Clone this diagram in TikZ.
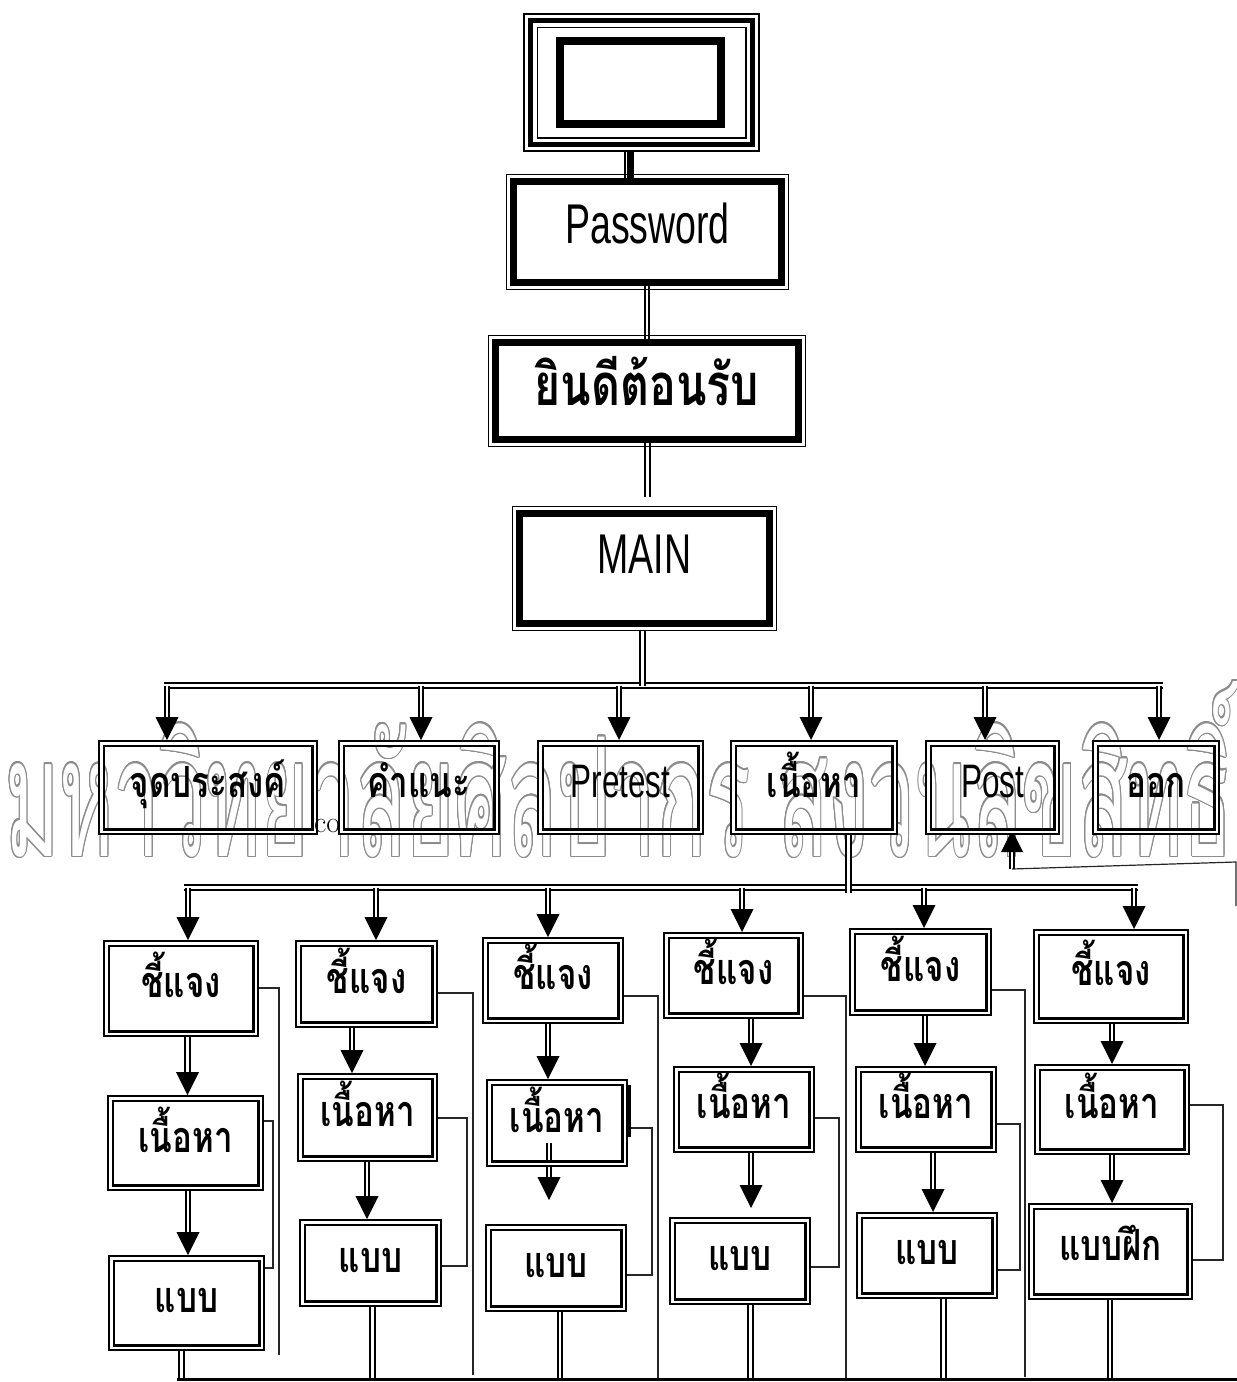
\documentclass[tikz,border=0pt]{standalone}
\usepackage{fontspec}
\usepackage{graphicx}
\usepackage[copies]{contour}
\usetikzlibrary{calc}
\newfontfamily\thai[Script=Thai]{Loma}
\newfontfamily\thain[Script=Thai,FakeStretch=0.77]{Loma}
\newfontfamily\latn[FakeStretch=0.67]{Liberation Sans}
\newcommand\thaitxt{\thain\bfseries\fontsize{43}{48}\selectfont}
\newcommand\latbig{\latn\fontsize{56}{60}\selectfont}
\newcommand\latmid{\latn\fontsize{47}{50}\selectfont}
\contourlength{1.2pt}
\contournumber{16}
\pgfdeclarelayer{back}
\pgfsetlayers{back,main}
\tikzset{
  dbl/.style={line width=2.3pt, double=white, double distance=2.3pt},
  thinln/.style={line width=1.2pt, black!85},
  frameln/.style={line width=1.6pt},
  lv/.style={draw, line width=2.3pt, double=white, double distance=2.2pt,
    inner sep=0pt, outer sep=3.4pt, text height=18pt, text depth=0pt, font=\thaitxt},
  lvtwo/.style={lv, text height=20pt},
  bigbox/.style={draw, line width=7pt, inner sep=0pt, outer sep=0pt},
}
% double-framed box given by its outer edges
\newcommand\bx[7][]{\node[lv,#1,minimum width={#5-#3-6.8},minimum height={#6-#4-6.8}]
  (#2) at ({(#3+#5)/2},{(#4+#6)/2}) {#7};}
% heavy box with a thin outer frame, given by the outer edges of the heavy band
\newcommand\bigbx[7][]{\node[bigbox,#1,minimum width={#5-#3-7},minimum height={#6-#4-7}]
  (#2) at ({(#3+#5)/2},{(#4+#6)/2}) {#7};
  \draw[frameln] ([shift={(-7,-7)}]#2.north west) rectangle ([shift={(7,7)}]#2.south east);}
% double-lined connector ending in a solid arrowhead, at a given x
\newcommand\colarr[3]{\coordinate (ax) at (#3,0);
  \draw[dbl] (#1 -| ax) -- ($(#2 -| ax)+(0,-20)$);
  \fill ($(#2 -| ax)+(-11.5,-23)$) -- (#2 -| ax) -- ($(#2 -| ax)+(11.5,-23)$) -- cycle;}
% double-lined drop from a box to the bottom rail
\newcommand\botln[2]{\coordinate (ax) at (#2,1378);
  \draw[dbl] (#1.south -| ax) -- (ax);}

\begin{document}
\begin{tikzpicture}[x=1pt,y=-1pt]
\useasboundingbox (0,0) rectangle (1237,1382);

% ---------- start screen ----------
\node[draw, line width=1.6pt, inner sep=0pt, outer sep=0pt,
  minimum width=235.4, minimum height=137.4] (top) at (641.5,82.5) {};
\draw[line width=5pt] ([shift={(7,7)}]top.north west) rectangle ([shift={(-7,-7)}]top.south east);
\draw[frameln] ([shift={(13.5,13.5)}]top.north west) rectangle ([shift={(-13.5,-13.5)}]top.south east);
\node[draw, line width=8pt, inner sep=0pt, outer sep=0pt,
  minimum width=161, minimum height=83] (scr) at (640.5,82.5) {};

% ---------- upper chain ----------
\bigbx[font=\latbig, text height=22pt, text depth=0pt]{pw}{510}{178}{785}{286}{Password}
\bigbx[font=\thain\bfseries\fontsize{58}{64}\selectfont, text height=28pt, text depth=0pt]{wel}{492}{339}{802}{443}{ยินดีต้อนรับ}
\bigbx[font=\latbig, text height=9pt, text depth=0pt]{main}{516}{510}{773}{627}{MAIN}

% ---------- main menu ----------
\bx[lvtwo]{obj}{98}{740}{318}{835}{จุดประสงค์}
\bx[lvtwo]{adv}{338}{740}{500}{835}{คำแนะ}
\bx[lvtwo,font=\latmid]{pre}{537}{740}{704}{835}{Pretest}
\bx[lvtwo]{cont}{730}{740}{898}{835}{เนื้อหา}
\bx[lvtwo,font=\latmid]{post}{925}{740}{1060}{835}{Post}
\bx[lvtwo]{exit}{1092}{740}{1220}{835}{ออก}
\node[font=\fontsize{30}{32}\selectfont, anchor=base west, inner sep=0pt] (co) at (314,832) {co};

% ---------- lessons ----------
\bx{c1a}{103}{940}{259}{1037}{ชี้แจง}
\bx{c1b}{107}{1095}{264}{1191}{เนื้อหา}
\bx{c1c}{108}{1255}{265}{1351}{แบบ}
\bx{c2a}{295}{940}{438}{1028}{ชี้แจง}
\bx{c2b}{297}{1073}{438}{1162}{เนื้อหา}
\bx{c2c}{299}{1219}{442}{1307}{แบบ}
\bx{c3a}{482}{937}{624}{1024}{ชี้แจง}
\bx{c3b}{486}{1079}{628}{1167}{เนื้อหา}
\bx{c3c}{485}{1224}{627}{1312}{แบบ}
\bx{c4a}{663}{932}{804}{1019}{ชี้แจง}
\bx{c4b}{673}{1066}{815}{1153}{เนื้อหา}
\bx{c4c}{669}{1217}{811}{1305}{แบบ}
\bx{c5a}{849}{928}{992}{1016}{ชี้แจง}
\bx{c5b}{855}{1066}{997}{1153}{เนื้อหา}
\bx{c5c}{856}{1212}{998}{1299}{แบบ}
\bx{c6a}{1033}{929}{1189}{1024}{ชี้แจง}
\bx{c6b}{1034}{1064}{1190}{1155}{เนื้อหา}
\bx{c6c}{1028}{1203}{1193}{1300}{แบบฝึก}

\begin{pgfonlayer}{back}
% watermark
\node[anchor=base west, inner sep=0pt] (wm) at (5,856) {\resizebox{1228pt}{175pt}{%
  {\thai\fontsize{100}{110}\selectfont\color{white}\contour{black!45}{มหาวิทยาลัยศิลปากร สงวนลิขสิทธิ์}}}};

% upper chain links
\coordinate (t1) at (624.5,0);
\coordinate (t2) at (630.5,0);
\draw[line width=2pt] (top.south -| t1) -- (pw.north -| t1);
\draw[line width=6.5pt] (top.south -| t2) -- (pw.north -| t2);
\coordinate (t3) at (647,0);
\draw[dbl] (pw.south -| t3) -- (wel.north -| t3);
\coordinate (t4e) at (647.5,497);
\draw[dbl] (wel.south -| t4e) -- (t4e);

% menu rail
\coordinate (b1l) at (163.5,685.5);
\coordinate (b1r) at (1162.5,685.5);
\draw[dbl] (b1l) -- (b1r);
\coordinate (m1) at (642.5,0);
\path (main.south -| m1) ++(0,7) coordinate (mstart);
\draw[dbl] (mstart) -- (b1l -| m1);
\colarr{b1l}{obj.north}{167}
\colarr{b1l}{adv.north}{421}
\colarr{b1l}{pre.north}{619}
\colarr{b1l}{cont.north}{811}
\colarr{b1l}{post.north}{985}
\colarr{b1l}{exit.north}{1159}

% lesson rail
\coordinate (b2l) at (184,887.5);
\coordinate (b2r) at (1137.5,887.5);
\draw[dbl] (b2l) -- (b2r);
\coordinate (m2e) at (848.5,893);
\draw[dbl] (cont.south -| m2e) -- (m2e);
\colarr{b2l}{c1a.north}{188}
\colarr{b2l}{c2a.north}{376}
\colarr{b2l}{c3a.north}{548}
\colarr{b2l}{c4a.north}{742}
\colarr{b2l}{c5a.north}{924}
\colarr{b2l}{c6a.north}{1134}

% steps inside each lesson
\colarr{c1a.south}{c1b.north}{187.5}
\colarr{c1b.south}{c1c.north}{188}
\colarr{c2a.south}{c2b.north}{352}
\colarr{c2b.south}{c2c.north}{367}
\colarr{c3a.south}{c3b.north}{548}
\coordinate (c3s) at (549,1143);
\coordinate (c3t) at (549,1200);
\colarr{c3s}{c3t}{549}
\colarr{c4a.south}{c4b.north}{751}
\coordinate (c4t) at (751,1208);
\colarr{c4b.south}{c4t}{751}
\colarr{c5a.south}{c5b.north}{925}
\colarr{c5b.south}{c5c.north}{933}
\colarr{c6a.south}{c6b.north}{1112}
\colarr{c6b.south}{c6c.north}{1112}

% return lines
\coordinate (r1a) at (279,988);  \coordinate (r1b) at (279,1355);
\coordinate (r2a) at (473,993);  \coordinate (r2b) at (473,1375);
\coordinate (r3a) at (658,996);  \coordinate (r3b) at (658,1378);
\coordinate (r4a) at (846,996);  \coordinate (r4b) at (846,1378);
\coordinate (r5a) at (1025,990); \coordinate (r5b) at (1025,1377);
\draw[thinln] (c1a.east |- r1a) -- (r1a) -- (r1b);
\draw[thinln] (c2a.east |- r2a) -- (r2a) -- (r2b);
\draw[thinln] (c3a.east |- r3a) -- (r3a) -- (r3b);
\draw[thinln] (c4a.east |- r4a) -- (r4a) -- (r4b);
\draw[thinln] (c5a.east |- r5a) -- (r5a) -- (r5b);
\coordinate (k1a) at (273,1121);  \coordinate (k1b) at (273,1268);
\coordinate (k2a) at (467,1118);  \coordinate (k2b) at (467,1266);
\coordinate (k3a) at (652,1128);  \coordinate (k3b) at (652,1275);
\coordinate (k4a) at (839,1118);  \coordinate (k4b) at (839,1267);
\coordinate (k5a) at (1020,1124); \coordinate (k5b) at (1020,1270);
\coordinate (k6a) at (1223,1105); \coordinate (k6b) at (1223,1260);
\draw[thinln] (c1b.east |- k1a) -- (k1a) -- (k1b) -- (c1c.east |- k1b);
\draw[thinln] (c2b.east |- k2a) -- (k2a) -- (k2b) -- (c2c.east |- k2b);
\draw[thinln] (c3b.east |- k3a) -- (k3a) -- (k3b) -- (c3c.east |- k3b);
\draw[thinln] (c4b.east |- k4a) -- (k4a) -- (k4b) -- (c4c.east |- k4b);
\draw[thinln] (c5b.east |- k5a) -- (k5a) -- (k5b) -- (c5c.east |- k5b);
\draw[thinln] (c6b.east |- k6a) -- (k6a) -- (k6b) -- (c6c.east |- k6b);
\coordinate (bar1) at (629.5,1085); \coordinate (bar2) at (629.5,1137);
\draw[line width=3pt] (bar1) -- (bar2);

% link back up to Post
\coordinate (pj) at (1012,869);
\coordinate (pr) at (1236,862);
\coordinate (prb) at (1236,906);
\path (post.south -| pj) ++(0,-5) coordinate (ptip);
\draw[dbl] (pj) -- ($(ptip)+(0,20)$);
\fill ($(ptip)+(-11,22)$) -- (ptip) -- ($(ptip)+(11,22)$) -- cycle;
\draw[thinln] (pj) -- (pr) -- (prb);

% bottom rail
\botln{c1c}{181.5}
\botln{c2c}{372.5}
\botln{c3c}{560}
\botln{c4c}{750.5}
\botln{c5c}{943.5}
\botln{c6c}{1110}
\coordinate (b3l) at (177,1379.5);
\coordinate (b3r) at (1237,1379.5);
\draw[line width=3.5pt] (b3l) -- (b3r);
\end{pgfonlayer}
\end{tikzpicture}
\end{document}
